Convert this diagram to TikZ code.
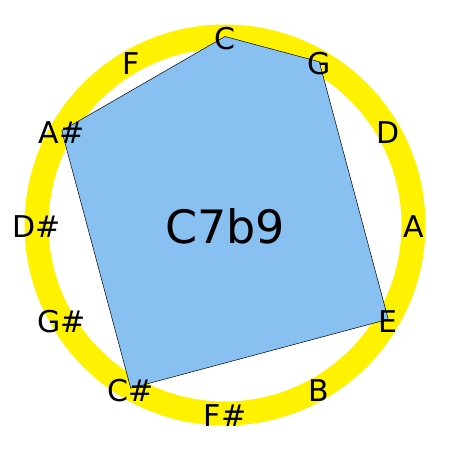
\documentclass[tikz,border=0pt]{standalone}
\usepackage{fontspec}
\setmainfont{DejaVu Sans}
\usepackage{tikz}
\definecolor{chordblue}{RGB}{137,192,242}

\begin{document}
\begin{tikzpicture}[x=1pt,y=1pt]
\tikzstyle{every node}+=[inner sep=0pt]
\tikzstyle{note}=[font=\fontsize{30}{36}\selectfont, yshift=-2]
\tikzstyle{chord}=[font=\fontsize{46}{55}\selectfont]
\useasboundingbox (-225,-225) rectangle (225,225);
\draw [yellow, line width=24] (0,0) circle (188.5);
\coordinate (C) at (90:188.5);
\coordinate (G) at (60:188.5);
\coordinate (D) at (30:188.5);
\coordinate (A) at (0:188.5);
\coordinate (E) at (-30:188.5);
\coordinate (B) at (-60:188.5);
\coordinate (Fs) at (-90:188.5);
\coordinate (Cs) at (-120:188.5);
\coordinate (Gs) at (-150:188.5);
\coordinate (Ds) at (180:188.5);
\coordinate (As) at (150:188.5);
\coordinate (F) at (120:188.5);
\draw [black, line width=0.5, fill=chordblue] (C) -- (G) -- (E) -- (Cs) -- (As) -- cycle;
\node [chord] (name) at (0,-1) {C7b9};
\node [note] (nC) at (C) {C};
\node [note] (nG) at (G) {G};
\node [note] (nD) at (D) {D};
\node [note] (nA) at (A) {A};
\node [note] (nE) at (E) {E};
\node [note] (nB) at (B) {B};
\node [note] (nFs) at (Fs) {F\#};
\node [note] (nCs) at (Cs) {C\#};
\node [note] (nGs) at (Gs) {G\#};
\node [note] (nDs) at (Ds) {D\#};
\node [note] (nAs) at (As) {A\#};
\node [note] (nF) at (F) {F};
\end{tikzpicture}
\end{document}
